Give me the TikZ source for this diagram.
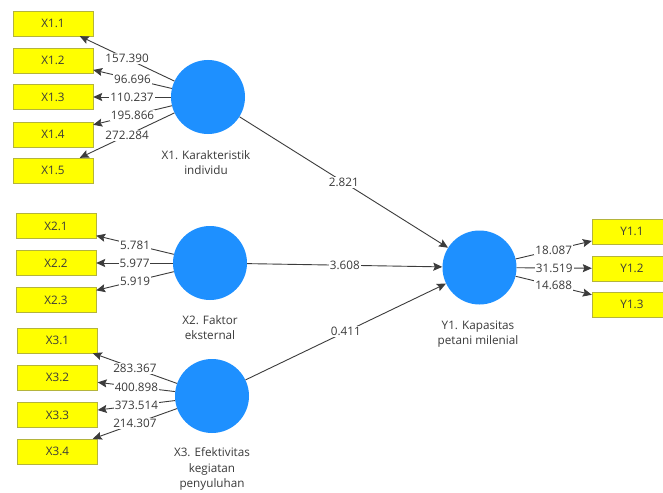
\documentclass[tikz,border=0pt]{standalone}
\usepackage{fontspec}
\setmainfont{Open Sans}
\usetikzlibrary{arrows.meta}
\definecolor{lvblue}{HTML}{1E90FF}
\definecolor{indyel}{HTML}{FFFF00}
\definecolor{indline}{HTML}{B4B43C}
\definecolor{edgecol}{HTML}{3C3C3C}
\definecolor{txtcol}{HTML}{3A3A3A}
\begin{document}
\begin{tikzpicture}[x=1pt,y=-1pt,
  font=\fontsize{11.7}{14}\selectfont,
  indbox/.style={draw=indline, fill=indyel, minimum width=80pt, minimum height=25pt, inner sep=0pt, text=txtcol},
  lvcirc/.style={circle, fill=lvblue, minimum size=74pt, inner sep=0pt},
  lvlab/.style={align=center, text=txtcol, font=\fontsize{11.7}{15.5}\selectfont},
  arr/.style={draw=edgecol, line width=0.9pt, -{Stealth[length=9pt,width=8pt,inset=1.5pt]}},
  val/.style={fill=white, inner sep=1pt, text=txtcol, midway}]
\clip (0,0) rectangle (663,492);
\fill[white] (0,0) rectangle (663,492);
% indicators
\node[indbox] (x11) at (53,23.5) {X1.1};
\node[indbox] (x12) at (53,60.5) {X1.2};
\node[indbox] (x13) at (53,97) {X1.3};
\node[indbox] (x14) at (53,134.5) {X1.4};
\node[indbox] (x15) at (53,170.5) {X1.5};
\node[indbox] (x21) at (56,226) {X2.1};
\node[indbox] (x22) at (56,263) {X2.2};
\node[indbox] (x23) at (56,300) {X2.3};
\node[indbox] (x31) at (57.5,340.5) {X3.1};
\node[indbox] (x32) at (57.5,377.5) {X3.2};
\node[indbox] (x33) at (57.5,415) {X3.3};
\node[indbox] (x34) at (57.5,451.5) {X3.4};
\node[indbox] (y11) at (632,231.5) {Y1.1};
\node[indbox] (y12) at (632,268.5) {Y1.2};
\node[indbox] (y13) at (632,304.5) {Y1.3};
% latent variables
\node[lvcirc] (X1) at (208,97) {};
\node[lvcirc] (X2) at (210,263) {};
\node[lvcirc] (X3) at (212,396) {};
\node[lvcirc] (Y1) at (479.5,267.5) {};
\node[lvlab] (lx1) at (206,162.5) {X1. Karakteristik\\individu};
\node[lvlab] (lx2) at (210,327.5) {X2. Faktor\\eksternal};
\node[lvlab] (lx3) at (212,469) {X3. Efektivitas\\kegiatan\\penyuluhan};
\node[lvlab] (ly1) at (478,334) {Y1. Kapasitas\\petani milenial};
% loadings
\draw[arr] (X1) -- node[val] {157.390} (x11);
\draw[arr] (X1) -- node[val] {96.696} (x12);
\draw[arr] (X1) -- node[val] {110.237} (x13);
\draw[arr] (X1) -- node[val] {195.866} (x14);
\draw[arr] (X1) -- node[val] {272.284} (x15);
\draw[arr] (X2) -- node[val] {5.781} (x21);
\draw[arr] (X2) -- node[val] {5.977} (x22);
\draw[arr] (X2) -- node[val] {5.919} (x23);
\draw[arr] (X3) -- node[val] {283.367} (x31);
\draw[arr] (X3) -- node[val] {400.898} (x32);
\draw[arr] (X3) -- node[val] {373.514} (x33);
\draw[arr] (X3) -- node[val] {214.307} (x34);
\draw[arr] (Y1) -- node[val] {18.087} (y11);
\draw[arr] (Y1) -- node[val] {31.519} (y12);
\draw[arr] (Y1) -- node[val] {14.688} (y13);
% paths
\draw[arr] (X1) -- node[val] {2.821} (Y1);
\draw[arr] (X2) -- node[val] {3.608} (Y1);
\draw[arr] (X3) -- node[val] {0.411} (Y1);
\end{tikzpicture}
\end{document}
